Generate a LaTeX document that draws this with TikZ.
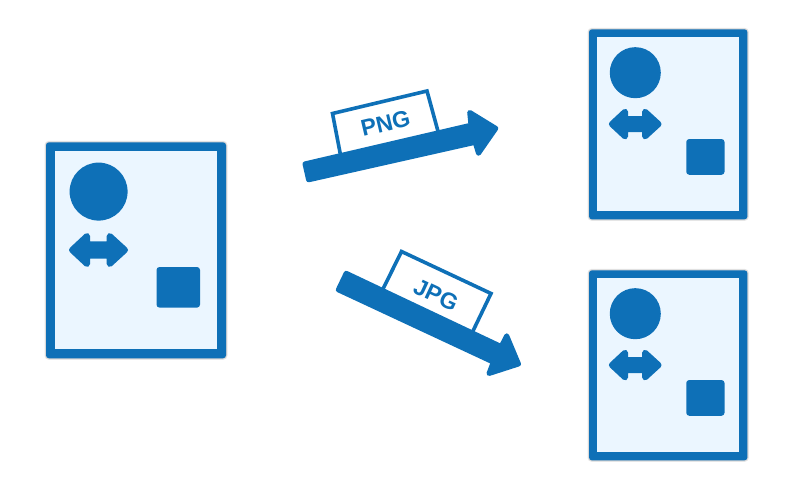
\documentclass[tikz,border=0pt]{standalone}
\usepackage{fontspec}
\setmainfont{Liberation Sans}
\definecolor{iconblue}{HTML}{0E70B7}
\definecolor{iconpale}{HTML}{EBF6FF}
\tikzset{
PG/.style={fill=iconblue,rounded corners=3pt},
PGglow/.style={draw=black,opacity=0.09,line width=#1,rounded corners=3pt},
AR/.style={draw=iconblue,fill=iconblue,line join=round,line width=#1},
BX/.style={draw=iconblue,fill=white,line width=3.6pt,line join=miter},
FMT/.style={text=iconblue,font=\fontsize{23}{23}\selectfont\bfseries,inner sep=0pt}
}

\begin{document}
\begin{tikzpicture}[x=1pt,y=-1pt]
\useasboundingbox (0,0) rectangle (800,500);

\foreach \px/\py/\sc in {46/142.3/1,589/29.3/0.88,589/270.3/0.88}{
\begin{scope}[shift={(\px,\py)},scale=\sc]
\draw[PGglow=3pt] (0,0) rectangle (180,216);
\draw[PGglow=1.5pt] (0,0) rectangle (180,216);
\fill[PG] (0,0) rectangle (180,216);
\fill[iconpale] (8.7,8.5) rectangle (171,207);
\fill[iconblue] (52.6,49.3) circle [radius=29];
\draw[AR=6pt] (26,107.7) -- (41,93.7) -- (41,102) -- (63.7,102) -- (63.7,93.7) -- (79,107.7)
  -- (63.7,121.7) -- (63.7,113.3) -- (41,113.3) -- (41,121.7) -- cycle;
\fill[PG] (110.5,124.7) rectangle (154,165.3);
\end{scope}
}

\draw[BX] (340.5,155) -- (332.5,113.5) -- (427,91) -- (439,135);
\node[FMT,rotate=13.3] (png) at (385.5,123.5) {PNG};
\draw[AR=5pt] (305,163.9) -- (308.6,179.8) -- (475.2,142.3) -- (478.5,153.3) -- (495.8,128.4)
  -- (469.7,112.4) -- (471,125.2) -- cycle;

\draw[BX] (382,291) -- (401.5,251.5) -- (491,293.5) -- (472,333);
\node[FMT,rotate=-25] (jpg) at (436,295) {JPG};
\draw[AR=5pt] (346.2,273.3) -- (338.3,289.8) -- (493.3,362.1) -- (489,373.5) -- (518.5,364)
  -- (506.7,335.8) -- (501.2,346.6) -- cycle;
\end{tikzpicture}
\end{document}
